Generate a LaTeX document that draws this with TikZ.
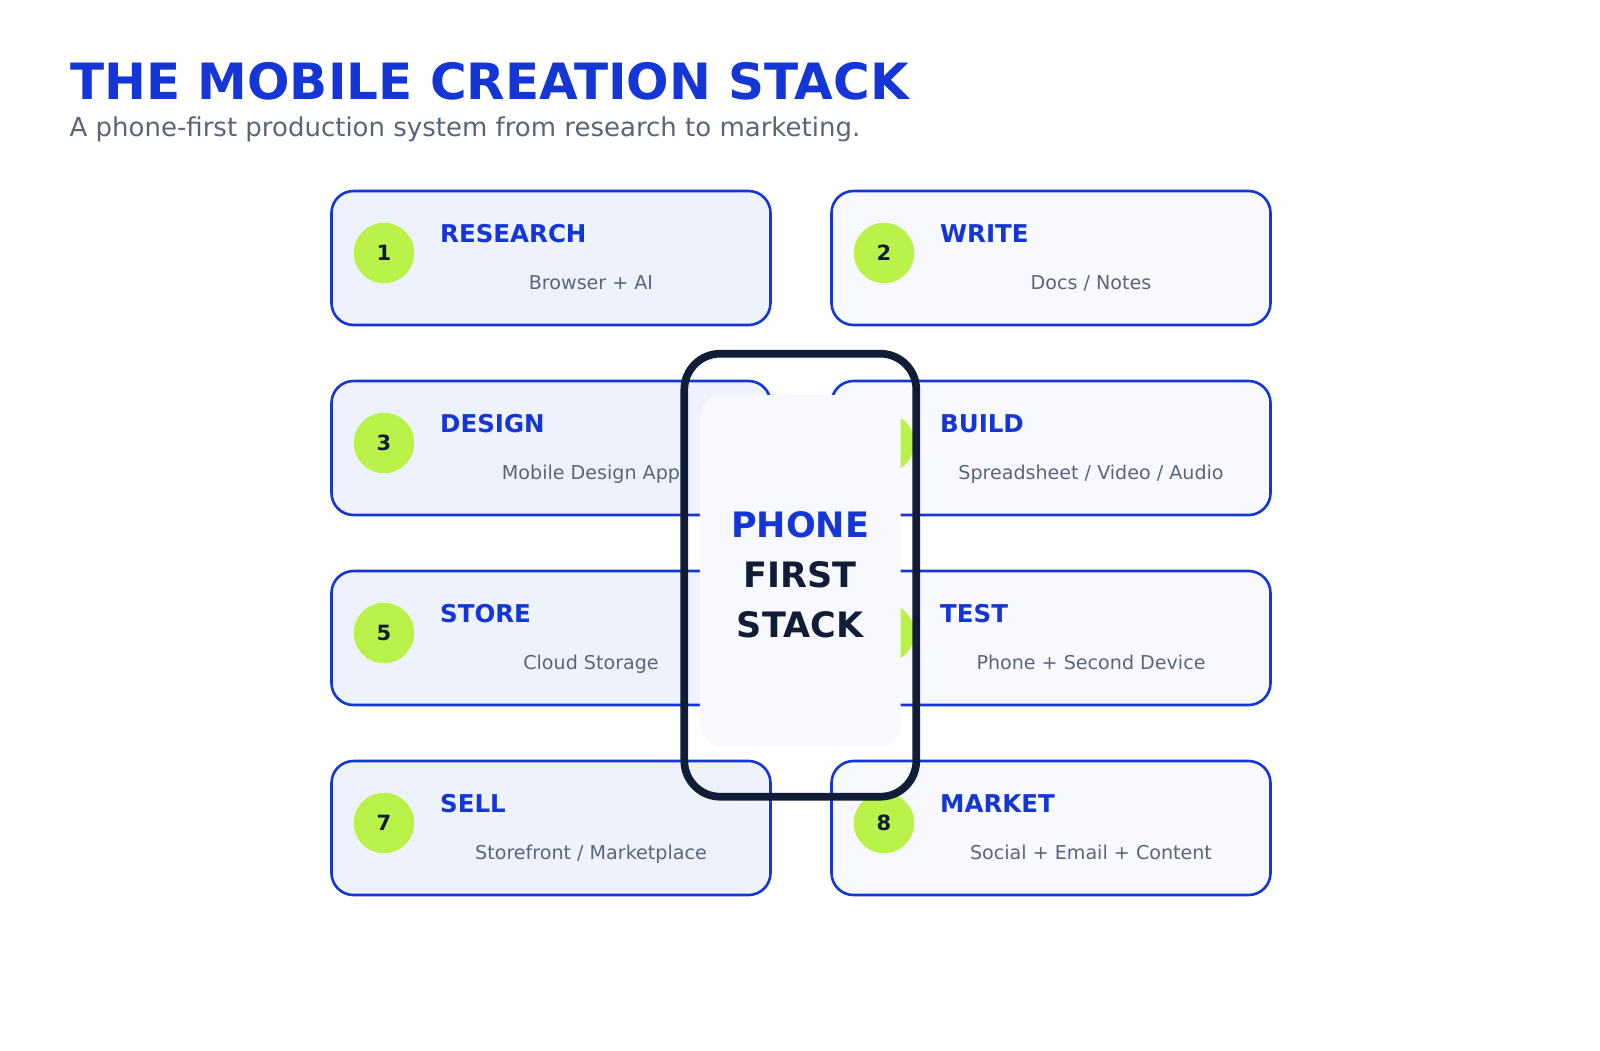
\documentclass[tikz,border=0pt]{standalone}
\usepackage{fontspec}
\setmainfont{DejaVu Sans}
\definecolor{blu}{HTML}{1436D6}
\definecolor{subg}{HTML}{5B6479}
\definecolor{fillL}{HTML}{EEF2FD}
\definecolor{fillR}{HTML}{F7F9FE}
\definecolor{limeg}{HTML}{BBF24A}
\definecolor{ink}{HTML}{111D36}
\newcommand\mkcard[7]{%
  \node[card, fill=#4, anchor=north west] (#1) at (#2,#3) {};
  \node[badge] (#1n) at (#2+52.5,#3+62) {#5};
  \node[ctitle] (#1t) at (#2+108.5,#3+51) {#6};
  \node[cdesc] (#1d) at (#2+259.5,#3+98.5) {#7};
}
\begin{document}
\begin{tikzpicture}[x=1pt,y=-1pt,
  card/.style={draw=blu, line width=2.6pt, rounded corners=22pt, minimum width=439pt, minimum height=134pt, inner sep=0pt, outer sep=0pt},
  badge/.style={circle, fill=limeg, minimum size=60.5pt, inner sep=0pt, text=ink, font=\bfseries\fontsize{21}{24}\selectfont},
  ctitle/.style={anchor=base west, inner sep=0pt, text=blu, font=\bfseries\fontsize{24.5}{28}\selectfont},
  cdesc/.style={anchor=base, inner sep=0pt, text=subg, font=\fontsize{19.1}{22}\selectfont},
  ptext/.style={anchor=base, inner sep=0pt, font=\bfseries\fontsize{35}{40}\selectfont}]
\useasboundingbox[fill=white] (0,0) rectangle (1600,1050);
\node[anchor=base west, inner sep=0pt, text=blu, font=\bfseries\fontsize{50}{60}\selectfont] (title) at (70,99) {THE MOBILE CREATION STACK};
\node[anchor=base west, inner sep=0pt, text=subg, font=\fontsize{26}{30}\selectfont] (subtitle) at (69.4,136.5) {A phone-first production system from research to marketing.};
\mkcard{c1}{331.5}{191}{fillL}{1}{RESEARCH}{Browser + AI}
\mkcard{c2}{831.5}{191}{fillR}{2}{WRITE}{Docs / Notes}
\mkcard{c3}{331.5}{381}{fillL}{3}{DESIGN}{Mobile Design App}
\mkcard{c4}{831.5}{381}{fillR}{4}{BUILD}{Spreadsheet / Video / Audio}
\mkcard{c5}{331.5}{571}{fillL}{5}{STORE}{Cloud Storage}
\mkcard{c6}{831.5}{571}{fillR}{6}{TEST}{Phone + Second Device}
\mkcard{c7}{331.5}{761}{fillL}{7}{SELL}{Storefront / Marketplace}
\mkcard{c8}{831.5}{761}{fillR}{8}{MARKET}{Social + Email + Content}
\node[fill=fillR, rounded corners=22pt, minimum width=200.7pt, minimum height=351pt, inner sep=0pt] (screen) at (800.3,570.5) {};
\node[draw=ink, line width=7.7pt, rounded corners=36pt, minimum width=232pt, minimum height=443pt, inner sep=0pt] (phone) at (800.3,575.2) {};
\node[ptext, text=blu] (p1) at (800,537.5) {PHONE};
\node[ptext, text=ink] (p2) at (800,587.5) {FIRST};
\node[ptext, text=ink] (p3) at (800,637) {STACK};
\end{tikzpicture}
\end{document}
